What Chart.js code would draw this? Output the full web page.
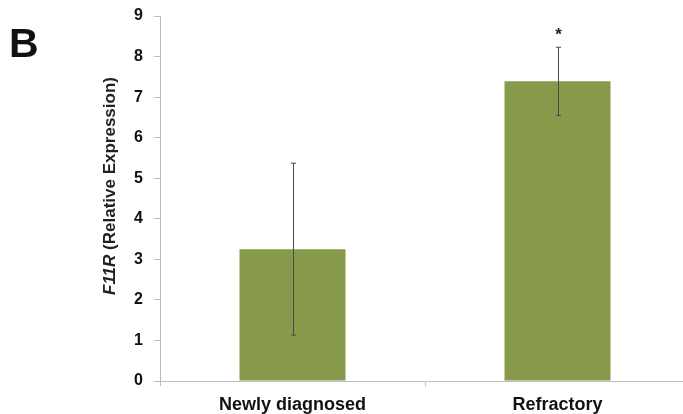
<!DOCTYPE html>
<html>
<head>
<meta charset="utf-8">
<script src="https://cdn.jsdelivr.net/npm/chart.js@4"></script>
<style>
  html, body { margin: 0; padding: 0; background: #fff; }
  #wrap { position: relative; width: 683px; height: 414px; overflow: hidden; }
  #c { position: absolute; left: 0; top: 0; }
</style>
</head>
<body>
<div id="wrap"><canvas id="c" width="692" height="414"></canvas></div>
<script>
// Groups and measured F11R relative expression (mean ± SD)
const categories = ['Newly diagnosed', 'Refractory'];
const meanExpression = [3.25, 7.39];
const errorValues = [2.12, 0.84];
const significance = ['', '*'];
const yTicks = [0, 1, 2, 3, 4, 5, 6, 7, 8, 9];

const BAR_COLOR = '#879a4b';
const AXIS_COLOR = '#bdbdbd';
const FONT = 'Liberation Sans, Arial, Helvetica, sans-serif';

// Error bars with caps, plus significance marks above them
const errorBarPlugin = {
  id: 'errorBars',
  afterDatasetsDraw(chart) {
    const ctx = chart.ctx;
    const meta = chart.getDatasetMeta(0);
    const y = chart.scales.y;
    ctx.save();
    meta.data.forEach((bar, i) => {
      const x = Math.round(bar.x) + 0.5;
      const top = y.getPixelForValue(meanExpression[i] + errorValues[i]);
      const bot = y.getPixelForValue(meanExpression[i] - errorValues[i]);
      ctx.strokeStyle = '#4a4a4a';
      ctx.lineWidth = 1;
      ctx.beginPath();
      ctx.moveTo(x, top); ctx.lineTo(x, bot);
      ctx.moveTo(x - 2.5, top); ctx.lineTo(x + 2.5, top);
      ctx.moveTo(x - 2.5, bot); ctx.lineTo(x + 2.5, bot);
      ctx.stroke();
      if (significance[i]) {
        ctx.fillStyle = '#222';
        ctx.font = 'bold 17px ' + FONT;
        ctx.textAlign = 'center';
        ctx.textBaseline = 'middle';
        ctx.fillText(significance[i], x, top - 12);
      }
    });
    ctx.restore();
  }
};

// Panel letter and the y-axis title with an italic gene symbol
const annotationPlugin = {
  id: 'annotations',
  afterDraw(chart) {
    const ctx = chart.ctx;
    ctx.save();
    ctx.fillStyle = '#111';
    ctx.font = 'bold 41px ' + FONT;
    ctx.textAlign = 'left';
    ctx.textBaseline = 'alphabetic';
    ctx.fillText('B', 9, 57);

    const italicPart = 'F11R';
    const plainPart = ' (Relative Expression)';
    const italicFont = 'italic bold 17px ' + FONT;
    const plainFont = 'bold 17px ' + FONT;
    ctx.font = italicFont;
    const w1 = ctx.measureText(italicPart).width;
    ctx.font = plainFont;
    const w2 = ctx.measureText(plainPart).width;
    const total = w1 + w2;
    ctx.translate(115, 186);
    ctx.rotate(-Math.PI / 2);
    ctx.fillStyle = '#222';
    ctx.font = italicFont;
    ctx.fillText(italicPart, -total / 2, 0);
    ctx.font = plainFont;
    ctx.fillText(plainPart, -total / 2 + w1, 0);
    ctx.restore();
  }
};

new Chart(document.getElementById('c'), {
  type: 'bar',
  data: {
    labels: categories,
    datasets: [{
      data: meanExpression,
      backgroundColor: BAR_COLOR,
      borderWidth: 0,
      barPercentage: 0.8,
      categoryPercentage: 0.5
    }]
  },
  options: {
    responsive: false,
    animation: false,
    events: [],
    layout: { padding: { top: 16, left: 0, right: 2, bottom: 0 } },
    plugins: { legend: { display: false }, tooltip: { enabled: false }, title: { display: false } },
    scales: {
      x: {
        offset: true,
        grid: {
          display: true, drawOnChartArea: false, drawTicks: true,
          tickLength: 5, color: AXIS_COLOR, offset: true
        },
        border: { display: true, color: AXIS_COLOR, width: 1 },
        ticks: {
          color: '#111', padding: 8,
          font: { family: FONT, size: 18, weight: 'bold' },
          maxRotation: 0
        },
        afterFit(scale) {
          scale.height = 33;
          scale.paddingLeft = 0;
          scale.paddingRight = 0;
        }
      },
      y: {
        min: 0, max: 9,
        afterBuildTicks(scale) { scale.ticks = yTicks.map(v => ({ value: v })); },
        grid: {
          display: true, drawOnChartArea: false, drawTicks: true,
          tickLength: 6, color: AXIS_COLOR
        },
        border: { display: true, color: AXIS_COLOR, width: 1 },
        ticks: {
          color: '#111', padding: 11,
          font: { family: FONT, size: 16, weight: 'bold' }
        },
        afterFit(scale) {
          scale.width = 160;
          scale.paddingTop = 0;
          scale.paddingBottom = 0;
        }
      }
    }
  },
  plugins: [errorBarPlugin, annotationPlugin]
});
</script>
</body>
</html>
